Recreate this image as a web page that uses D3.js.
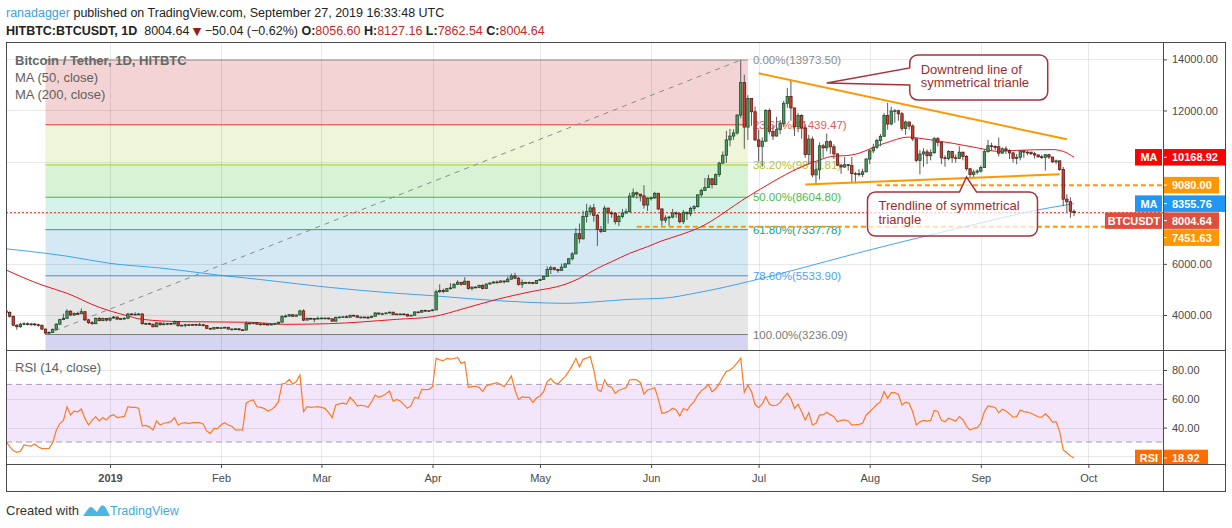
<!DOCTYPE html>
<html>
<head>
<meta charset="utf-8">
<script src="https://cdn.jsdelivr.net/npm/d3@7"></script>
<style>
  body { margin: 0; background: #fff; }
  svg text { font-family: "Liberation Sans", Arial, sans-serif; }
</style>
</head>
<body>
<svg id="chart" width="1232" height="528"></svg>
<script>
/* BTCUSDT daily candles with MA50 / MA200, fib retracement, triangle lines and RSI */

// daily candles per month: [close, high, low]; open = previous close
const firstOpen = 4160;
const dec18 = [
  [4100,4200,4050],[3950,4150,3900],[3600,3970,3560],[3540,3640,3420],[3640,3700,3500],
  [3660,3720,3600],[3630,3710,3590],[3650,3690,3580],[3620,3680,3560],[3600,3660,3540],
  [3450,3620,3410],[3300,3460,3236.09],[3320,3360,3260],[3440,3470,3300],[3640,3680,3420],
  [3820,3850,3620],[3870,4050,3800],[4150,4230,3850],[4000,4180,3950],[4060,4100,3960],
  [4050,4130,4000],[4130,4250,4040],[3810,4130,3760],[3700,3850,3650],[3660,3760,3620],
  [3870,3900,3650],[3780,3920,3760],[3860,3900,3760],[3800,3870,3750]];
const jan19 = [
  [3880,3900,3750],[3920,3960,3850],[3840,3930,3800],[3860,3890,3800],[3870,3920,3840],
  [4040,4080,3850],[4020,4070,3990],[4030,4110,3990],[4040,4080,3990],[3660,4060,3620],
  [3670,3700,3610],[3640,3700,3600],[3540,3660,3520],[3690,3720,3530],[3620,3700,3590],
  [3650,3720,3610],[3670,3690,3600],[3650,3690,3610],[3740,3790,3640],[3580,3760,3550],
  [3600,3620,3560],[3620,3660,3520],[3600,3650,3580],[3630,3650,3580],[3620,3640,3590],
  [3620,3690,3600],[3590,3640,3550],[3480,3600,3450],[3450,3490,3420],[3510,3530,3440],
  [3490,3530,3470]];
const feb19 = [
  [3500,3530,3460],[3520,3540,3480],[3450,3530,3430],[3450,3480,3420],[3460,3490,3440],
  [3420,3480,3400],[3410,3450,3390],[3670,3760,3400],[3680,3700,3640],[3700,3720,3630],
  [3640,3710,3620],[3650,3680,3590],[3640,3690,3610],[3620,3660,3600],[3640,3680,3610],
  [3660,3700,3630],[3720,3730,3640],[3950,3990,3710],[3960,4020,3900],[4010,4040,3930],
  [3950,4020,3930],[4000,4020,3940],[4160,4200,3990],[3800,4220,3760],[3870,3900,3800],
  [3850,3890,3820],[3860,3880,3720],[3870,3940,3840]];
const mar19 = [
  [3880,3900,3850],[3880,3900,3840],[3850,3890,3820],[3760,3860,3740],[3910,3930,3750],
  [3920,3940,3880],[3930,3950,3900],[3910,3990,3880],[3990,4000,3910],[3970,3990,3940],
  [3910,3980,3880],[3920,3940,3870],[3910,3930,3890],[3900,3960,3860],[3950,3970,3900],
  [4080,4110,3950],[4040,4080,4010],[4050,4090,4000],[4080,4100,4030],[4110,4130,4060],
  [4020,4120,3990],[4040,4060,4020],[4040,4060,4020],[4030,4060,4010],[3960,4040,3940],
  [3990,4010,3960],[4120,4140,3980],[4110,4130,4090],[4180,4200,4100],[4170,4210,4140],
  [4170,4190,4150]];
const apr19 = [
  [4200,4220,4150],[4910,4990,4190],[4960,5200,4860],[4920,5030,4850],[5030,5060,4920],
  [5060,5250,5000],[5200,5250,5060],[5280,5360,5170],[5200,5290,5150],[5320,5480,5180],
  [5040,5330,4990],[5090,5120,4960],[5080,5120,5060],[5160,5180,5050],[5040,5200,5000],
  [5210,5230,5030],[5250,5280,5200],[5290,5330,5240],[5280,5350,5240],[5330,5360,5270],
  [5300,5340,5230],[5400,5500,5280],[5530,5620,5390],[5440,5650,5400],[5200,5490,5150],
  [5270,5390,5060],[5270,5300,5240],[5270,5310,5240],[5230,5290,5200],[5350,5370,5210]];
const may19 = [
  [5390,5420,5350],[5510,5540,5380],[5780,5900,5500],[5850,5930,5600],[5780,5860,5740],
  [5740,5810,5650],[5870,6010,5740],[6000,6030,5840],[6200,6220,5990],[6390,6460,6140],
  [7180,7400,6380],[6980,7580,6800],[7850,8080,6950],[8040,8350,7620],[8190,8300,7900],
  [7900,8350,7650],[7350,7950,6700],[7270,7480,7200],[8180,8280,7250],[7990,8200,7580],
  [7980,8080,7800],[7650,8020,7540],[7850,7920,7480],[7990,8150,7780],[8040,8160,7960],
  [8650,8780,8020],[8780,8950,8580],[8730,8830,8550],[8660,8730,8440],[8300,9080,8160],
  [8560,8600,8070]];
const jun19 = [
  [8580,8620,8480],[8760,8820,8540],[8150,8780,8100],[7710,8170,7500],[7800,7900,7600],
  [7830,7880,7490],[7990,8150,7780],[7960,8050,7800],[7650,7980,7580],[8020,8100,7560],
  [7960,8030,7720],[8170,8240,7860],[8240,8300,8060],[8700,8720,8200],[8870,8950,8620],
  [8990,9360,8860],[9330,9480,8980],[9100,9350,8950],[9490,9540,9080],[9940,10000,9400],
  [10250,10400,9920],[10850,11200,9950],[11000,11280,10600],[11120,11260,10850],[11820,11850,11050],
  [13090,13973.5,11700],[11350,13400,10500],[12470,12600,10850],[11950,12450,11400],[10850,12150,10800]];
const jul19 = [
  [10600,11250,10000],[10800,10950,9800],[12000,12050,10770],[11180,12080,11070],[11000,11420,10850],
  [11250,11750,10980],[11500,11620,11070],[12280,12380,11350],[12550,12880,12100],[12100,13200,11600],
  [11360,12100,11000],[11800,11900,11150],[11320,11850,10900],[10280,11450,10150],[10880,11050,9880],
  [9480,10980,9380],[9680,9980,9100],[10620,10750,9300],[10540,10700,10150],[10780,11100,10400],
  [10580,10840,10300],[10300,10680,10100],[9860,10320,9820],[9790,9920,9520],[9880,10180,9750],
  [9850,9900,9650],[9530,10180,9200],[9530,9600,9150],[9500,9700,9420],[9600,9720,9400],
  [10100,10140,9580]];
const aug19 = [
  [10420,10480,9900],[10560,10700,10330],[10830,10900,10500],[10990,11080,10600],[11800,11900,10990],
  [11470,12300,11250],[11980,12150,11420],[11990,12060,11520],[11870,12030,11600],[11300,11950,11200],
  [11550,11600,11050],[11390,11560,11250],[10890,11460,10800],[10050,10900,9980],[10300,10450,9500],
  [10380,10520,9800],[10230,10480,9900],[10350,10480,10050],[10900,10960,10300],[10750,10960,10600],
  [10150,10800,9900],[10120,10250,9800],[10400,10450,10050],[10150,10420,9950],[10130,10280,9950],
  [10370,10600,10100],[10200,10380,10050],[9720,10250,9650],[9500,9740,9340],[9590,9690,9400],
  [9630,9700,9500]];
const sep19 = [
  [9770,9850,9570],[10390,10450,9760],[10620,10850,10350],[10590,10740,10450],[10580,10640,10450],
  [10330,10940,10200],[10500,10560,10320],[10440,10600,10300],[10340,10480,10100],[10130,10380,9960],
  [10170,10300,9900],[10420,10450,10050],[10370,10440,10150],[10370,10420,10250],[10310,10380,10260],
  [10260,10370,10120],[10190,10280,10150],[10170,10270,10100],[10270,10300,9650],[10180,10300,10100],
  [9990,10180,9950],[10030,10080,9900],[9690,10040,9640],[8530,9790,8250],[8430,8720,8000],
  [8056.6,8600,7800],[8004.64,8127.16,7862.54]];
const candleMonths = [
  ["2018-12-03", dec18], ["2019-01-01", jan19], ["2019-02-01", feb19], ["2019-03-01", mar19],
  ["2019-04-01", apr19], ["2019-05-01", may19], ["2019-06-01", jun19], ["2019-07-01", jul19],
  ["2019-08-01", aug19], ["2019-09-01", sep19]];

// RSI (14) daily, same days as candles
const rsiDec18 = [30.2,27,24,22.8,23.5,28,27.5,27.2,28.6,26.5,25.4,25.5,25.6,29.5,38,42.8,45,54.5,48.8,51.5,51,52.9,46.4,41.8,45,47.6,44.6,47,45.3];
const rsiJan19 = [48,49,47,47.3,47.8,54.5,54,54,53.5,41.1,41.5,40.5,38.3,44.6,41.8,43,43.5,44.1,46.9,41.8,43,43.4,42.8,43.5,43.4,43.4,42.5,37.5,36,39.5,39.3];
const rsiFeb19 = [42,43.4,41.8,41,38.3,38.5,38.3,57,58.5,59.2,54.5,54,53.4,51.5,52.5,54.5,58,70.3,70.8,73.5,70.3,72,76.5,51.1,54.5,54,54.3,54.5];
const rsiMar19 = [54,53.4,50.4,46.9,55.7,56.5,57,56.4,61,58.5,55,55.5,55.2,54.1,58,62.6,61,62,63.5,65.4,58.3,59.5,58.5,56,53.4,55.2,61,60.3,66.6,66.4,66.6];
const rsiApr19 = [68.4,88.1,87,86.5,88.1,87.5,88,88.7,84.6,85.7,68,68.5,68.7,68,65,68.9,69.8,70.5,71.2,70,68.4,72,75.8,66.1,59.6,61.3,61,61,57.5,60.5];
const rsiMay19 = [62,65,72,74,71.2,70.3,73,75.4,79,83,88.1,82.3,87.4,88.2,89.3,80,66.6,65,73.1,68.9,68,63.8,66,66.8,67.7,73.1,73.5,73.1,71.2,63.3,66.1];
const rsiJun19 = [66.8,67.7,60,50,50.4,51.5,53.4,52.2,48.1,53.4,51.9,55.5,58,62.5,65.5,67.5,70,64.9,67,70.5,75,79,80,82,85,88.1,64.5,69.6,65,56];
const rsiJul19 = [53.9,56.5,61.5,56.2,55.3,55.5,57.5,61,63.8,60,53.4,56.2,51,45.3,50.4,41.8,43,48.8,48.8,50.6,49,47.6,44.1,45,45.3,44.6,41.8,42,42.3,43,48.8];
const rsiAug19 = [51,53.5,56,58,65,60.3,64.3,64.3,63,55.7,57.6,56.9,51,41.8,44,45,44.5,45,51.9,51.2,45,44.1,46.5,45.5,44.5,47.6,45.5,41,38.3,39.5,40];
const rsiSep19 = [43,51.1,55,54.6,54,50.4,52.7,51.5,49.5,47.2,47.6,52.2,51.1,50.8,50,48.8,47.5,47.2,49.5,47.2,43.8,44.1,37.2,24.5,22.5,20.5,18.92];
const rsiMonths = [rsiDec18, rsiJan19, rsiFeb19, rsiMar19, rsiApr19, rsiMay19, rsiJun19, rsiJul19, rsiAug19, rsiSep19];

// moving averages: [date, value]
const ma50 = [
  ["2018-12-03",5760],["2018-12-13",5173],["2018-12-20",4850],["2018-12-29",4300],["2019-01-05",4000],
  ["2019-01-10",3830],["2019-01-21",3740],["2019-02-09",3715],["2019-02-19",3635],["2019-03-03",3660],
  ["2019-03-22",3830],["2019-04-01",3935],["2019-04-10",4260],
  ["2019-04-19",4613],["2019-04-28",4900],["2019-05-08",5200],["2019-05-12",5434],["2019-05-17",5825],
  ["2019-05-21",6086],["2019-05-26",6412],["2019-05-31",6673],["2019-06-04",6900],["2019-06-09",7129],
  ["2019-06-14",7390],["2019-06-28",8628],["2019-07-05",9215],["2019-07-12",9737],["2019-07-18",10063],
  ["2019-07-21",10192],["2019-07-27",10260],["2019-08-05",10710],["2019-08-12",10960],["2019-08-15",10911],
  ["2019-08-24",10720],["2019-08-31",10540],["2019-09-06",10400],["2019-09-11",10440],["2019-09-21",10470],
  ["2019-09-24",10400],["2019-09-27",10168.92]];
const ma200 = [
  ["2018-12-03",6590],["2018-12-20",6300],["2019-01-01",6020],["2019-01-16",5825],["2019-01-31",5565],
  ["2019-02-13",5370],["2019-03-03",5083],["2019-03-22",4850],["2019-04-01",4756],
  ["2019-04-10",4652],["2019-04-19",4560],["2019-04-28",4495],["2019-05-08",4456],["2019-05-17",4521],
  ["2019-05-26",4613],["2019-06-04",4652],["2019-06-14",4873],["2019-06-28",5300],["2019-07-12",5800],
  ["2019-07-28",6400],["2019-08-12",6930],["2019-09-01",7600],["2019-09-14",8030],["2019-09-27",8355.76]];

// fib retracement anchors and drawn lines
const fibLow = 3236.09, fibHigh = 13973.5;
const fibFrom = "2018-12-14", fibTo = "2019-06-28", fibPeak = "2019-06-26";
const fibLevels = [0, 0.236, 0.382, 0.5, 0.618, 0.786, 1];
const downTrend = [["2019-07-01", 13455], ["2019-09-25", 10873]];
const upTrend = [["2019-07-14", 9105], ["2019-09-23", 9504]];
const hLevels = [["2019-08-03", 9080], ["2019-05-28", 7451.63]];
const lastClose = 8004.64;

const priceTicks = [4000, 6000, 8000, 10000, 12000, 14000];
const rsiTicks = [20, 40, 60, 80];
const rsiLabels = [40, 60, 80];

// ---------- layout
const svg = d3.select("#chart");
const paneL = 6, axisX = 1163, frameR = 1225, paneT = 42, mainB = 350, rsiB = 464, frameB = 491;
const parse = d3.utcParse("%Y-%m-%d");

const x = d3.scaleUtc().domain([parse("2019-01-01"), parse("2019-09-27")]).range([110, 1074]);
const y = d3.scaleLinear().domain([4000, 14000]).range([315, 59.35]);
const yr = d3.scaleLinear().domain([20, 80]).range([456.4, 370]);

let bars = [], prev = firstOpen;
candleMonths.forEach(([start, rows], m) => {
  const s = parse(start);
  rows.forEach((r, i) => {
    bars.push({ date: d3.utcDay.offset(s, i), o: prev, c: r[0], h: r[1], l: r[2], rsi: rsiMonths[m][i] });
    prev = r[0];
  });
});

const defs = svg.append("defs");
defs.append("clipPath").attr("id", "mainClip").append("rect")
  .attr("x", paneL).attr("y", paneT).attr("width", axisX - paneL).attr("height", mainB - paneT);
defs.append("clipPath").attr("id", "rsiClip").append("rect")
  .attr("x", paneL).attr("y", mainB).attr("width", frameR - paneL).attr("height", rsiB - mainB);

const months = d3.utcMonth.range(parse("2019-01-01"), parse("2019-10-02"));

// ---------- header
const head = svg.append("g").attr("font-size", 12.5);
head.append("text").attr("x", 6).attr("y", 17).attr("fill", "#222")
  .call(t => {
    t.append("tspan").attr("fill", "#3ca2dd").text("ranadagger");
    t.append("tspan").text(" published on TradingView.com, September 27, 2019 16:33:48 UTC");
  });
head.append("text").attr("x", 6).attr("y", 35).attr("fill", "#222")
  .call(t => {
    t.append("tspan").attr("font-weight", "bold").text("HITBTC:BTCUSDT, 1D");
    t.append("tspan").text("\u00a0 8004.64 ");
    t.append("tspan").attr("fill", "#9b1b1b").style("font-family", "DejaVu Sans").attr("font-size", 11).text("\u25BC");
    t.append("tspan").text(" \u221250.04 (\u22120.62%) ");
    [["O:", "8056.60"], [" H:", "8127.16"], [" L:", "7862.54"], [" C:", "8004.64"]].forEach(([k, v]) => {
      t.append("tspan").attr("font-weight", "bold").text(k);
      t.append("tspan").attr("fill", "#c62828").text(v);
    });
  });

// ---------- main pane
const main = svg.append("g").attr("clip-path", "url(#mainClip)");
main.append("rect").attr("x", paneL).attr("y", paneT).attr("width", axisX - paneL).attr("height", mainB - paneT).attr("fill", "#fff");

const fx0 = x(parse(fibFrom)), fx1 = x(parse(fibTo));
const fibPrice = l => fibHigh - l * (fibHigh - fibLow);
const fibFill = ["#f3d3d3", "#eef5d9", "#d7f2d5", "#d4f3ea", "#d4e9f4", "#e6e6e6"];
const fibLine = ["#8c8c8c", "#e0393e", "#a4cc2e", "#3dbb45", "#1fa88a", "#3a92d6", "#7a7a7a"];
const fibText = ["#8c8c8c", "#e25b5b", "#b3c43a", "#4cbb4c", "#14a085", "#4aa3e8", "#7a7a7a"];

main.selectAll(".fibzone").data(fibLevels.slice(0, -1)).join("rect")
  .attr("x", fx0).attr("width", fx1 - fx0)
  .attr("y", d => y(fibPrice(d)))
  .attr("height", (d, i) => y(fibPrice(fibLevels[i + 1])) - y(fibPrice(d)))
  .attr("fill", (d, i) => fibFill[i]);
main.append("rect").attr("x", fx0).attr("width", fx1 - fx0)
  .attr("y", y(fibLow)).attr("height", mainB - y(fibLow)).attr("fill", "#d5d5f3");

// grid
const grid = main.append("g").attr("stroke", "#000").attr("stroke-opacity", 0.085);
grid.selectAll(".gh").data(priceTicks).join("line")
  .attr("x1", paneL).attr("x2", axisX).attr("y1", d => Math.round(y(d)) + 0.5).attr("y2", d => Math.round(y(d)) + 0.5);
grid.selectAll(".gv").data(months).join("line")
  .attr("x1", d => Math.round(x(d)) + 0.5).attr("x2", d => Math.round(x(d)) + 0.5).attr("y1", paneT).attr("y2", mainB);

// fib lines
main.selectAll(".fibline").data(fibLevels).join("line")
  .attr("x1", fx0).attr("x2", fx1)
  .attr("y1", d => y(fibPrice(d))).attr("y2", d => y(fibPrice(d)))
  .attr("stroke", (d, i) => fibLine[i]).attr("stroke-width", 1);
main.append("line")
  .attr("x1", fx0).attr("y1", y(fibLow)).attr("x2", x(parse(fibPeak))).attr("y2", y(fibHigh))
  .attr("stroke", "#8a8a8a").attr("stroke-dasharray", "5,5").attr("stroke-width", 1);
main.selectAll(".fiblabel").data(fibLevels).join("text")
  .attr("x", fx1 + 5).attr("y", d => y(fibPrice(d))).attr("dy", "0.35em")
  .attr("font-size", 11.5).attr("fill", (d, i) => fibText[i])
  .text(d => `${(d * 100).toFixed(2)}%(${fibPrice(d).toFixed(2)})`);

// horizontal levels
main.selectAll(".hlev").data(hLevels).join("line")
  .attr("x1", d => x(parse(d[0]))).attr("x2", axisX)
  .attr("y1", d => y(d[1])).attr("y2", d => y(d[1]))
  .attr("stroke", "#ff9800").attr("stroke-width", 2).attr("stroke-dasharray", "5,3");
main.append("line").attr("x1", paneL).attr("x2", axisX).attr("y1", y(lastClose)).attr("y2", y(lastClose))
  .attr("stroke", "#e53935").attr("stroke-width", 1).attr("stroke-dasharray", "2,2");

// moving averages
const maLine = d3.line().x(d => x(parse(d[0]))).y(d => y(d[1])).curve(d3.curveMonotoneX);
main.append("path").attr("d", maLine(ma200)).attr("fill", "none").attr("stroke", "#2196f3").attr("stroke-width", 1).attr("stroke-opacity", 0.85);
main.append("path").attr("d", maLine(ma50)).attr("fill", "none").attr("stroke", "#f0141e").attr("stroke-width", 1);

// candles
const bw = 2.4;
const up = d => d.c >= d.o;
const cg = main.append("g");
cg.selectAll(".wick").data(bars).join("line")
  .attr("x1", d => x(d.date)).attr("x2", d => x(d.date))
  .attr("y1", d => y(d.h)).attr("y2", d => y(d.l))
  .attr("stroke", "#5a5a5a").attr("stroke-width", 1);
cg.selectAll(".body").data(bars).join("rect")
  .attr("x", d => x(d.date) - bw / 2).attr("width", bw)
  .attr("y", d => y(Math.max(d.o, d.c)))
  .attr("height", d => Math.max(0.8, Math.abs(y(d.o) - y(d.c))))
  .attr("fill", d => up(d) ? "#4b9c62" : "#d63b2c")
  .attr("stroke", d => up(d) ? "#1e4a2a" : "#5e1b14").attr("stroke-width", 0.8);

// triangle lines
[downTrend, upTrend].forEach(seg => {
  main.append("line")
    .attr("x1", x(parse(seg[0][0]))).attr("y1", y(seg[0][1]))
    .attr("x2", x(parse(seg[1][0]))).attr("y2", y(seg[1][1]))
    .attr("stroke", "#ff9800").attr("stroke-width", 2);
});

// callouts
function calloutPath(x0, y0, x1, y1, r, tip, side, a, b) {
  const p = d3.path();
  p.moveTo(x0 + r, y0);
  if (side === "top") { p.lineTo(a, y0); p.lineTo(tip[0], tip[1]); p.lineTo(b, y0); }
  p.lineTo(x1 - r, y0);
  p.arcTo(x1, y0, x1, y0 + r, r);
  p.lineTo(x1, y1 - r);
  p.arcTo(x1, y1, x1 - r, y1, r);
  p.lineTo(x0 + r, y1);
  p.arcTo(x0, y1, x0, y1 - r, r);
  if (side === "left") { p.lineTo(x0, b); p.lineTo(tip[0], tip[1]); p.lineTo(x0, a); }
  p.lineTo(x0, y0 + r);
  p.arcTo(x0, y0, x0 + r, y0, r);
  p.closePath();
  return p.toString();
}
const notes = [
  { at: ["2019-07-20", 13075], box: [83, -28, 221, 17], side: "left", wedge: [-15, 2],
    lines: ["Downtrend line of", "symmetrical trianle"] },
  { at: ["2019-08-28", 9398], box: [-99, 15, 71, 59], side: "top", wedge: [-7, 10],
    lines: ["Trendline of symmetrical", "triangle"] }
];
notes.forEach(n => {
  const tx = x(parse(n.at[0])), ty = y(n.at[1]);
  const x0 = tx + n.box[0], y0 = ty + n.box[1], x1 = tx + n.box[2], y1 = ty + n.box[3];
  const a = n.side === "left" ? ty + n.wedge[0] : tx + n.wedge[0];
  const b = n.side === "left" ? ty + n.wedge[1] : tx + n.wedge[1];
  main.append("path").attr("d", calloutPath(x0, y0, x1, y1, 8, [tx, ty], n.side, a, b))
    .attr("fill", "#fff").attr("fill-opacity", 0.72)
    .attr("stroke", "#a8323a").attr("stroke-width", 1.5);
  const mid = (y0 + y1) / 2;
  n.lines.forEach((s, i) => {
    main.append("text").attr("x", x0 + 11).attr("y", mid - 2 + (i - 0.5) * 13.5 + 5)
      .attr("font-size", 13).attr("fill", "#a02d2d").text(s);
  });
});

// legend
const leg = svg.append("g").attr("font-size", 13).attr("fill", "#5f5f5f");
leg.append("text").attr("x", 15).attr("y", 65).attr("font-weight", "bold").attr("fill", "#666").text("Bitcoin / Tether, 1D, HITBTC");
leg.append("text").attr("x", 15).attr("y", 82).text("MA (50, close)");
leg.append("text").attr("x", 15).attr("y", 99).text("MA (200, close)");

// ---------- RSI pane
const rp = svg.append("g").attr("clip-path", "url(#rsiClip)");
rp.append("rect").attr("x", paneL).attr("y", yr(70)).attr("width", axisX - paneL).attr("height", yr(30) - yr(70))
  .attr("fill", "#f3e6fb");
const rgrid = rp.append("g").attr("stroke", "#000").attr("stroke-opacity", 0.085);
rgrid.selectAll(".rh").data(rsiTicks).join("line")
  .attr("x1", paneL).attr("x2", axisX).attr("y1", d => Math.round(yr(d)) + 0.5).attr("y2", d => Math.round(yr(d)) + 0.5);
rgrid.selectAll(".rv").data(months).join("line")
  .attr("x1", d => Math.round(x(d)) + 0.5).attr("x2", d => Math.round(x(d)) + 0.5).attr("y1", mainB).attr("y2", rsiB);
rp.selectAll(".band").data([70, 30]).join("line")
  .attr("x1", paneL).attr("x2", axisX).attr("y1", d => yr(d)).attr("y2", d => yr(d))
  .attr("stroke", "#a99db6").attr("stroke-dasharray", "6,4");
rp.append("path").datum(bars)
  .attr("d", d3.line().x(d => x(d.date)).y(d => yr(d.rsi)))
  .attr("fill", "none").attr("stroke", "#ff7a22").attr("stroke-width", 1.2);
rp.append("text").attr("x", 15).attr("y", 372).attr("font-size", 13).attr("fill", "#5f5f5f").text("RSI (14, close)");

// ---------- price tags on the axis (pushed down to avoid overlaps)
const tags = [
  { v: 10168.92, color: "#ff0000", name: "MA", nameW: 28, w: 62 },
  { v: 9080, color: "#ff9800", w: 56 },
  { v: 8355.76, color: "#2196f3", name: "MA", nameW: 28, w: 62 },
  { v: lastClose, color: "#df4f3d", name: "BTCUSDT", nameW: 58, w: 56 },
  { v: 7451.63, color: "#ff9800", w: 56 }
].sort((a, b) => b.v - a.v);
let lastY = -Infinity;
tags.forEach(t => { t.cy = Math.max(y(t.v), lastY + 17); lastY = t.cy; });

// ---------- axes
const priceAxis = svg.append("g").attr("transform", `translate(${axisX},0)`)
  .call(d3.axisRight(y).tickValues(priceTicks).tickSize(4).tickPadding(5).tickFormat(d3.format(".2f")));
const rsiAxis = svg.append("g").attr("transform", `translate(${axisX},0)`)
  .call(d3.axisRight(yr).tickValues(rsiLabels).tickSize(4).tickPadding(5).tickFormat(d3.format(".2f")));
const timeAxis = svg.append("g").attr("transform", `translate(0,${rsiB})`)
  .call(d3.axisBottom(x).tickValues(months).tickSize(4).tickPadding(6)
    .tickFormat(d => d.getUTCMonth() === 0 ? d3.utcFormat("%Y")(d) : d3.utcFormat("%b")(d)));
[priceAxis, rsiAxis, timeAxis].forEach(g => {
  g.select(".domain").remove();
  g.selectAll("line").attr("stroke", "#4a4a4a");
  g.selectAll("text").attr("fill", "#4a4a4a").style("font-family", "Liberation Sans, Arial, sans-serif").attr("font-size", 11);
});
timeAxis.selectAll("text").filter(d => d.getUTCMonth() === 0).attr("font-weight", "bold");
// axis labels covered by a tag are not shown
priceAxis.selectAll(".tick").filter(d => tags.some(t => Math.abs(t.cy - y(d)) < 13)).select("text").remove();

function drawTag(g, t, cy) {
  const h = 16.5;
  if (t.name) {
    g.append("rect").attr("x", axisX - t.nameW).attr("y", cy - h / 2).attr("width", t.nameW - 1).attr("height", h).attr("fill", t.color);
    g.append("text").attr("x", axisX - t.nameW / 2).attr("y", cy).attr("dy", "0.36em").attr("text-anchor", "middle")
      .attr("font-size", 11).attr("font-weight", "bold").attr("fill", "#fff").text(t.name);
  }
  g.append("rect").attr("x", axisX).attr("y", cy - h / 2).attr("width", t.w).attr("height", h).attr("fill", t.color);
  g.append("line").attr("x1", axisX).attr("x2", axisX + 4).attr("y1", cy).attr("y2", cy).attr("stroke", "#fff");
  g.append("text").attr("x", axisX + 9).attr("y", cy).attr("dy", "0.36em")
    .attr("font-size", 11).attr("font-weight", "bold").attr("fill", "#fff").text(t.v.toFixed(2));
}
const tagG = svg.append("g");
tags.forEach(t => drawTag(tagG, t, t.cy));
const rsiTagG = svg.append("g").attr("clip-path", "url(#rsiClip)");
const lastRsi = bars[bars.length - 1].rsi;
drawTag(rsiTagG, { v: lastRsi, color: "#ff6d00", name: "RSI", nameW: 28, w: 45 }, yr(lastRsi));

// ---------- frame
const fr = svg.append("g").attr("stroke", "#4a4a4a").attr("fill", "none");
fr.append("rect").attr("x", paneL + 0.5).attr("y", paneT + 0.5).attr("width", frameR - paneL).attr("height", frameB - paneT);
[mainB, rsiB].forEach(v => fr.append("line").attr("x1", paneL).attr("x2", frameR).attr("y1", v + 0.5).attr("y2", v + 0.5));
fr.append("line").attr("x1", axisX + 0.5).attr("x2", axisX + 0.5).attr("y1", paneT).attr("y2", frameB);

// ---------- footer
const foot = svg.append("g");
foot.append("text").attr("x", 6).attr("y", 515).attr("font-size", 13).attr("fill", "#333").text("Created with");
foot.append("path")
  .attr("d", "M83,516 L88,509 Q91,505 94,509 L97,512 L100,507 Q103,503 106,508 L110,516 Z")
  .attr("fill", "#4cb6e4");
foot.append("text").attr("x", 110).attr("y", 515).attr("font-size", 12.5).attr("fill", "#3eabe0").text("TradingView");
</script>
</body>
</html>
